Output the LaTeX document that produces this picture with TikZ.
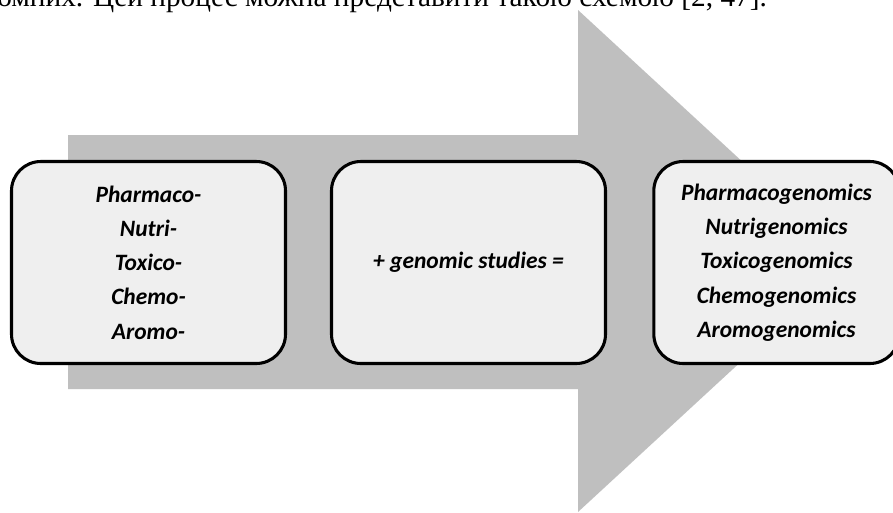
\documentclass[tikz,border=0pt]{standalone}
\usepackage{fontspec}
\setmainfont{Carlito}
\newfontfamily\serifcyr{Liberation Serif}
\definecolor{arrowgray}{RGB}{191,191,191}
\definecolor{boxgray}{RGB}{239,239,239}
\begin{document}
\begin{tikzpicture}[x=0.75pt,y=-0.75pt,
  stagebox/.style={draw=black, line width=2.3pt, fill=boxgray, rounded corners=22pt,
    minimum width=205.5pt, minimum height=151.5pt, inner sep=0pt, align=center,
    font=\bfseries\itshape\fontsize{17.6}{25.7}\selectfont},
  captiontext/.style={font=\serifcyr\fontsize{22}{22}\selectfont, anchor=base west, inner sep=0pt}
]
\useasboundingbox (0,0) rectangle (893,512);
\clip (0,0) rectangle (893,512);
\fill[white] (0,0) rectangle (893,512);
\node[captiontext] (caption) at (-3,6) {омних. Цей процес можна представити такою схемою [2, 47].};
\fill[arrowgray] (68,135) -- (578,135) -- (578,10) -- (850,261) -- (578,512) -- (578,389) -- (68,389) -- cycle;
\node[stagebox] (prefix) at (148.5,262.5) {Pharmaco-\\Nutri-\\Toxico-\\Chemo-\\Aromo-};
\node[stagebox] (plus) at (468.5,262.5) {+ genomic studies =};
\node[stagebox, minimum width=184pt] (result) at (776.5,262.5) {Pharmacogenomics\\Nutrigenomics\\Toxicogenomics\\Chemogenomics\\Aromogenomics};
\end{tikzpicture}
\end{document}
